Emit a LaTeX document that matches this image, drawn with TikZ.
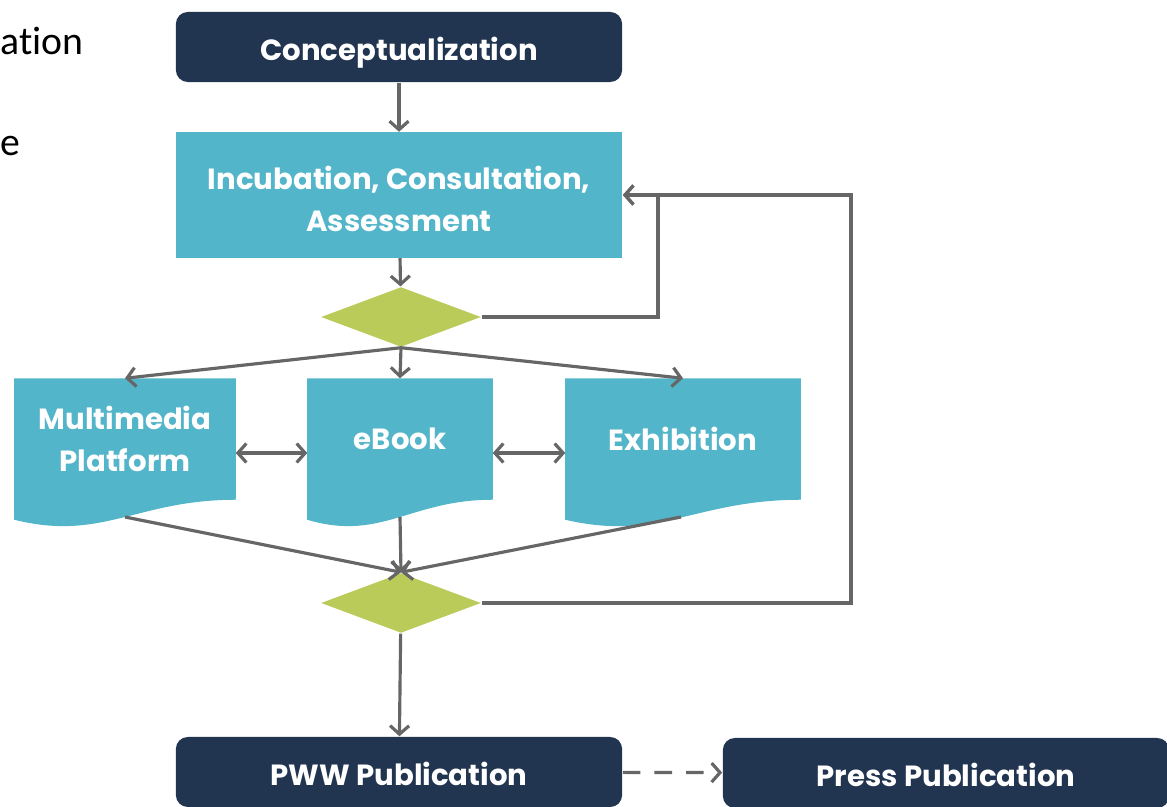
\documentclass[tikz,border=0pt]{standalone}
\usepackage{fontspec}
\setmainfont{Poppins}
\newfontfamily\sidefont{Carlito}[Ligatures=NoCommon]
\usetikzlibrary{arrows.meta,shapes.geometric,backgrounds}

\definecolor{pwwnavy}{HTML}{213450}
\definecolor{pwwcyan}{HTML}{53B5C9}
\definecolor{pwwgreen}{HTML}{BBCB5A}
\definecolor{pwwgray}{HTML}{666666}

\tikzset{
  boxtext/.style={text=white,font=\bfseries\fontsize{8.3}{12}\selectfont,align=center},
  navybox/.style={boxtext,fill=pwwnavy,rounded corners=0.12cm,minimum width=4.46cm,minimum height=0.7cm,inner sep=0,text height=7.4pt,text depth=0pt},
  cyanbox/.style={boxtext,fill=pwwcyan,minimum width=4.46cm,minimum height=1.25cm,inner sep=0},
  docbox/.style={boxtext,minimum height=1.2cm,inner sep=0},
  decision/.style={diamond,fill=pwwgreen,minimum width=1.6cm,minimum height=0.6cm,inner sep=0},
  flow/.style={draw=pwwgray,line width=0.9pt},
}

\begin{document}
\begin{tikzpicture}[x=0.01cm,y=-0.01cm,>={Straight Barb[length=2.4pt,width=5.4pt]}]
  \clip (0,0) rectangle (1167,807);

  % cut-off text on the left
  \node[anchor=base west,inner sep=0,font=\sidefont\fontsize{11.3}{13}\selectfont] (sidea) at (0,55) {ation};
  \node[anchor=base west,inner sep=0,font=\sidefont\fontsize{11.3}{13}\selectfont] (sideb) at (0,156) {e};

  % main boxes
  \node[navybox] (concept) at (399,47) {Conceptualization};
  \node[cyanbox] (incub) at (399,195) {};
  \node[boxtext,inner sep=0] (incubtxt) at (399,199) {Incubation, Consultation,\\Assessment};
  \node[decision] (dec1) at (401,317) {};

  % documents, with wavy bottoms
  \node[docbox,minimum width=2.2cm] (mm) at (125,439) {Multimedia\\Platform};
  \node[docbox,minimum width=1.84cm] (eb) at (400,439) {eBook};
  \node[docbox,minimum width=2.34cm] (ex) at (683,439) {Exhibition};
  \begin{scope}[on background layer]
    \fill[pwwcyan] (mm.north west) -- (mm.north east) -- (mm.south east) .. controls +(-99,0) and +(88,22) .. ([yshift=-20*0.01cm]mm.south west) -- cycle;
    \fill[pwwcyan] (eb.north west) -- (eb.north east) -- (eb.south east) .. controls +(-83,0) and +(74,22) .. ([yshift=-20*0.01cm]eb.south west) -- cycle;
    \fill[pwwcyan] (ex.north west) -- (ex.north east) -- (ex.south east) .. controls +(-105,0) and +(94,22) .. ([yshift=-20*0.01cm]ex.south west) -- cycle;
  \end{scope}
  \coordinate (mmb) at (125,517);
  \coordinate (ebb) at (400,517);
  \coordinate (exb) at (681,517);

  \node[decision] (dec2) at (401,603) {};
  \node[navybox] (pww) at (399,772) {PWW Publication};
  \node[navybox] (press) at (946,773) {Press Publication};

  % loop-back columns
  \coordinate (loopa) at (658,0);
  \coordinate (loopb) at (851,0);

  % connectors
  \draw[flow,->] (concept) -- (incub);
  \draw[flow,->] (incub) -- (dec1);
  \draw[flow,->] (dec1.east) -- (dec1.east -| loopa) |- (incub.east);
  \draw[flow,->] (dec1.south) -- (mm.north);
  \draw[flow,->] (dec1.south) -- (eb.north);
  \draw[flow,->] (dec1.south) -- (ex.north);
  \draw[flow,<->] ([yshift=-0.14cm]mm.east) -- ([yshift=-0.14cm]eb.west);
  \draw[flow,<->] ([yshift=-0.14cm]eb.east) -- ([yshift=-0.14cm]ex.west);
  \draw[flow,->] (mmb) -- (dec2.north);
  \draw[flow,->] (ebb) -- (dec2.north);
  \draw[flow,->] (exb) -- (dec2.north);
  \draw[flow,->] (dec2.east) -- (dec2.east -| loopb) |- (incub.east);
  \draw[flow,->] (dec2) -- (pww);
  \draw[flow,->,dashed,dash pattern=on 5pt off 4pt] (pww) -- (press);
\end{tikzpicture}
\end{document}
